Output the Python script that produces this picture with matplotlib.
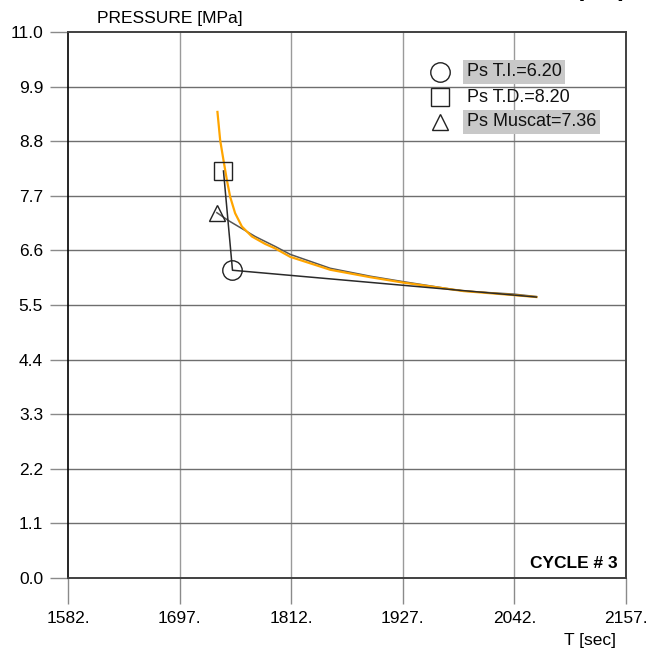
import matplotlib
matplotlib.use("Agg")
import matplotlib.pyplot as plt

plt.rcParams["font.family"] = ["Liberation Sans", "DejaVu Sans"]

# Measured pressure decay curve
t_meas = [1736.0, 1738.8, 1742.2, 1745.7, 1749.1, 1754.2, 1761.2, 1771.5, 1785.2,
          1795.5, 1811.0, 1852.2, 1893.5, 1927.8, 1989.7, 2041.0, 2064.7]
p_meas = [9.39, 8.82, 8.42, 8.02, 7.68, 7.35, 7.08, 6.88, 6.73,
          6.64, 6.47, 6.21, 6.06, 5.95, 5.78, 5.70, 5.66]

# Muscat fit curve
t_musc = [1735.4, 1747.4, 1761.2, 1774.9, 1795.5, 1811.0, 1852.2, 1893.5, 1927.5,
          1989.7, 2041.0, 2064.7]
p_musc = [7.36, 7.20, 7.04, 6.88, 6.68, 6.52, 6.24, 6.08, 5.97,
          5.78, 5.72, 5.67]

# Tangent construction: T.D. -> T.I. -> end of cycle
t_tan = [1742.2, 1751.5, 2064.7]
p_tan = [8.20, 6.20, 5.66]

ps_ti = (1751.5, 6.20)
ps_td = (1742.2, 8.20)
ps_musc = (1735.4, 7.36)

x_ticks = [1582, 1697, 1812, 1927, 2042, 2157]
y_ticks = [0.0, 1.1, 2.2, 3.3, 4.4, 5.5, 6.6, 7.7, 8.8, 9.9, 11.0]

fig = plt.figure(figsize=(6.5, 6.57), dpi=100)
ax = fig.add_axes([68/650, 1-578/657, (626-68)/650, (578-32)/657])
ax.set_xlim(1582, 2157)
ax.set_ylim(0, 11.0)

fs = 12.5

for x in x_ticks[1:-1]:
    ax.axvline(x, color="#9a9a9a", lw=1.0, zorder=1)
for y in y_ticks[1:-1]:
    ax.axhline(y, color="#6e6e6e", lw=1.0, zorder=1)

ax.set_xticks(x_ticks)
ax.set_xticklabels([f"{v}." for v in x_ticks], fontsize=fs)
ax.set_yticks(y_ticks)
ax.set_yticklabels([f"{v:.1f}" for v in y_ticks], fontsize=fs)
ax.tick_params(axis="x", direction="out", length=19, width=1, color="#8a8a8a", pad=5)
ax.tick_params(axis="y", direction="out", length=13, width=1, color="#8a8a8a", pad=5)

for s in ["top", "right", "bottom"]:
    ax.spines[s].set_color("#404040")
    ax.spines[s].set_linewidth(1.4)
ax.spines["left"].set_color("#000000")
ax.spines["left"].set_linewidth(1.2)

ax.plot(t_musc, p_musc, color="#555555", lw=1.1, zorder=3)
ax.plot(t_meas, p_meas, color="#FFA500", lw=1.6, zorder=4)
ax.plot(t_tan, p_tan, color="#2a2a2a", lw=1.1, zorder=5)

mk = dict(mfc="none", mec="#222222", mew=1.0, ls="none", zorder=6)
ax.plot(*ps_ti, marker="o", ms=14, **mk)
ax.plot(*ps_td, marker="s", ms=13.5, **mk)
ax.plot(*ps_musc, marker="^", ms=11, **mk)

# Legend block
leg_labels = [f"Ps T.I.={ps_ti[1]:.2f}", f"Ps T.D.={ps_td[1]:.2f}", f"Ps Muscat={ps_musc[1]:.2f}"]
leg_markers = ["o", "s", "^"]
leg_ms = [14, 13.5, 11]
leg_y = [72, 97, 122]
for lab, m, ms, yp, shade in zip(leg_labels, leg_markers, leg_ms, leg_y, [True, False, True]):
    yf = 1 - yp / 657
    fig.lines.append(plt.Line2D([440/650], [yf], marker=m, ms=ms, mfc="none",
                                mec="#222222", mew=1.0, ls="none", transform=fig.transFigure))
    bbox = dict(boxstyle="square,pad=0.2", fc="#c8c8c8", ec="none") if shade else None
    fig.text(467/650, yf, lab, fontsize=fs + 0.5, ha="left", va="center", bbox=bbox, color="#111111")

fig.text(97/650, 1-18/657, "PRESSURE [MPa]", fontsize=fs, ha="left", va="center")
fig.text(590/650, 1-640/657, "T [sec]", fontsize=fs, ha="center", va="center")
fig.text(618/650, 1-563/657, "CYCLE # 3", fontsize=fs, ha="right", va="center", fontweight="bold")
fig.text(601/650, 1+2/657, "[MPa]", fontsize=fs, ha="center", va="baseline")

fig.savefig("out.png", dpi=100)
